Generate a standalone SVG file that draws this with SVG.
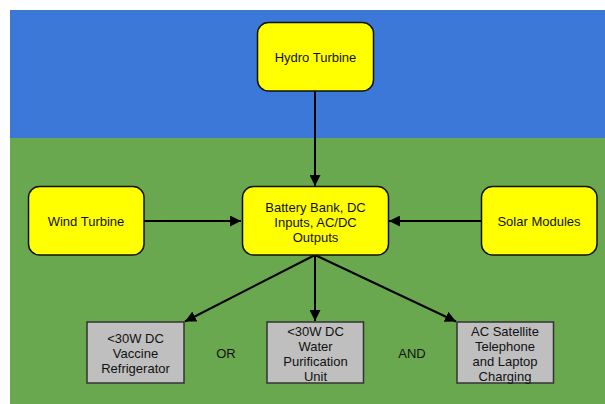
<svg xmlns="http://www.w3.org/2000/svg" width="605" height="404" viewBox="0 0 605 404">
<defs>
<marker id="ah" viewBox="0 0 10 10" refX="10" refY="5" markerWidth="5.5" markerHeight="5.5" orient="auto" markerUnits="strokeWidth">
<path d="M0,0 L10,5 L0,10 z" fill="#000"/>
</marker>
<style>
.src{fill:#ffff00;stroke:#111;stroke-width:1.5}
.load{fill:#bfbfbf;stroke:#333;stroke-width:1.5}
text{font-family:"Liberation Sans",Arial,sans-serif;font-size:13px;fill:#111;text-anchor:middle;dominant-baseline:central}
.c{stroke:#000;stroke-width:2;fill:none;marker-end:url(#ah)}
</style>
</defs>
<rect x="0" y="0" width="605" height="404" fill="#fff"/>
<rect x="10" y="10" width="595" height="128" fill="#3c78d8"/>
<rect x="10" y="138" width="595" height="266" fill="#6aa84f"/>
<g id="connectors">
<line class="c" x1="315" y1="91" x2="315" y2="186"/>
<line class="c" x1="144" y1="221" x2="241" y2="221"/>
<line class="c" x1="481" y1="221" x2="389" y2="221"/>
<line class="c" x1="315" y1="255" x2="185" y2="321.5"/>
<line class="c" x1="315" y1="255" x2="315" y2="321"/>
<line class="c" x1="315" y1="255" x2="456" y2="321.5"/>
</g>
<g id="hydro">
<rect class="src" x="257.5" y="22.5" width="116" height="68.5" rx="11"/>
<text x="315.5" y="57">Hydro Turbine</text>
</g>
<g id="battery">
<rect class="src" x="242.5" y="186.5" width="146" height="68.5" rx="11"/>
<text x="315.5" y="207">Battery Bank, DC</text>
<text x="315.5" y="222">Inputs, AC/DC</text>
<text x="315.5" y="237">Outputs</text>
</g>
<g id="wind">
<rect class="src" x="28.5" y="186.5" width="115.5" height="68.5" rx="11"/>
<text x="86" y="221">Wind Turbine</text>
</g>
<g id="solar">
<rect class="src" x="481.5" y="186.5" width="115.5" height="68.5" rx="11"/>
<text x="539" y="221">Solar Modules</text>
</g>
<g id="vaccine">
<rect class="load" x="87" y="322" width="97" height="61"/>
<text x="135.5" y="338.5">&lt;30W DC</text>
<text x="135.5" y="353.5">Vaccine</text>
<text x="135.5" y="368.5">Refrigerator</text>
</g>
<g id="water">
<rect class="load" x="267" y="322" width="96.5" height="61"/>
<text x="315.5" y="331">&lt;30W DC</text>
<text x="315.5" y="346">Water</text>
<text x="315.5" y="361">Purification</text>
<text x="315.5" y="376">Unit</text>
</g>
<g id="satellite">
<rect class="load" x="457" y="322" width="96.5" height="61"/>
<text x="505" y="331">AC Satellite</text>
<text x="505" y="346">Telephone</text>
<text x="505" y="361">and Laptop</text>
<text x="505" y="376">Charging</text>
</g>
<g id="or"><text x="226" y="353.5">OR</text></g>
<g id="and"><text x="412" y="353.5">AND</text></g>
</svg>
